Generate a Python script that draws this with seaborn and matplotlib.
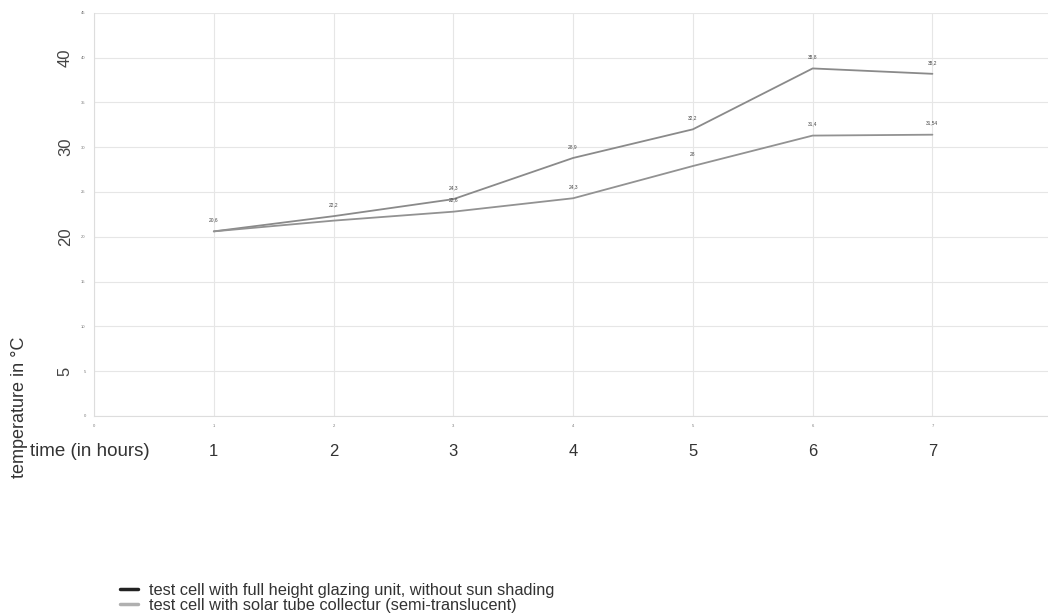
import seaborn as sns
import matplotlib.pyplot as plt
import pandas as pd
from matplotlib.lines import Line2D

hours = [1, 2, 3, 4, 5, 6, 7]
glazing = [20.6, 22.3, 24.2, 28.8, 32.0, 38.8, 38.2]
solar_tube = [20.6, 21.8, 22.8, 24.3, 27.9, 31.3, 31.4]
glazing_labels = ['20,6', '22,2', '24,3', '28,9', '32,2', '38,8', '38,2']
solar_labels = ['', '', '22,6', '24,3', '28', '31,4', '31,54']

series_names = ['test cell with full height glazing unit, without sun shading',
                'test cell with solar tube collectur (semi-translucent)']

df = pd.DataFrame({
    'hour': hours + hours,
    'temp': glazing + solar_tube,
    'series': [series_names[0]] * len(hours) + [series_names[1]] * len(hours),
})

sns.set_style('white')
plt.rcParams['font.family'] = ['Liberation Sans', 'DejaVu Sans']

fig = plt.figure(figsize=(10.48, 6.16), dpi=100)
ax = fig.add_axes([0.0897, 0.325, 0.912, 0.654])

sns.lineplot(data=df, x='hour', y='temp', hue='series', ax=ax,
             palette=['#8a8a8a', '#929292'], linewidth=1.3, legend=False)

# tiny point labels
for h, v, t in zip(hours, glazing, glazing_labels):
    ax.text(h, v + 1.0, t, fontsize=3.5, color='#444444', ha='center', va='bottom')
for h, v, t in zip(hours, solar_tube, solar_labels):
    if t:
        ax.text(h, v + 1.0, t, fontsize=3.5, color='#444444', ha='center', va='bottom')

ax.set_xlim(0, 7.98)
ax.set_ylim(0, 45)
ax.set_xticks(range(0, 8))
ax.set_yticks(range(0, 46, 5))
ax.set_xticklabels([str(i) for i in range(0, 8)], fontsize=3, color='#777777')
ax.set_yticklabels([str(i) for i in range(0, 46, 5)], fontsize=3, color='#777777')
ax.tick_params(length=0, pad=6)
ax.grid(True, color='#e6e6e6', linewidth=0.8)
for s in ax.spines.values():
    s.set_visible(False)
ax.spines['left'].set_visible(True)
ax.spines['bottom'].set_visible(True)
ax.spines['left'].set_color('#dddddd')
ax.spines['bottom'].set_color('#dddddd')
ax.set_xlabel('')
ax.set_ylabel('')

# large rotated y labels
for val, txt in [(40, '40'), (30, '30'), (20, '20'), (5, '5')]:
    ax.text(-0.030, val, txt, rotation=90, fontsize=12, color='#444444',
            ha='center', va='center', transform=ax.get_yaxis_transform())

# large x labels
for h in hours:
    ax.text(h, -4, str(h), fontsize=12, color='#333333', ha='center', va='center')
ax.text(-0.067, -4, 'time (in hours)', fontsize=13.5, color='#333333',
        ha='left', va='center', transform=ax.get_yaxis_transform())
for t in ax.texts:
    t.set_clip_on(False)
fig.text(0.019, 0.338, 'temperature in °C', rotation=90, fontsize=13,
         color='#333333', ha='center', va='center')

handles = [Line2D([], [], color='#222222', linewidth=2.5),
           Line2D([], [], color='#b0b0b0', linewidth=2.5)]
fig.legend(handles, series_names, loc='upper left', bbox_to_anchor=(0.108, 0.064),
           frameon=False, fontsize=11.8, handlelength=1.1, handletextpad=0.7,
           labelspacing=0.0, borderaxespad=0, labelcolor='#333333')

plt.savefig('out.png', dpi=100)
plt.close()
